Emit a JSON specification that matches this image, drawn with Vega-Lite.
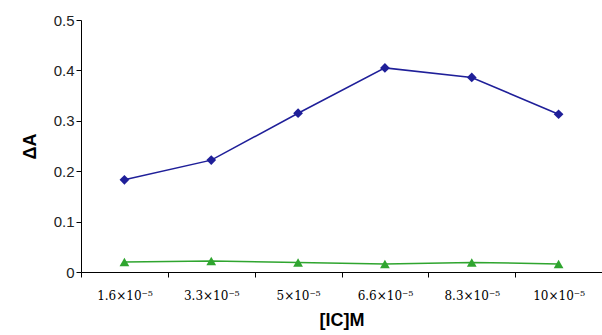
{
  "$schema": "https://vega.github.io/schema/vega-lite/v6.json",
  "width": 521,
  "height": 252,
  "autosize": {"type": "none"},
  "padding": {"left": 81, "top": 20, "right": 0, "bottom": 63},
  "background": "white",
  "config": {"view": {"stroke": null}},
  "data": {
    "values": [
      {"conc": "1.6×10⁻⁵", "series": "A", "dA": 0.183},
      {"conc": "3.3×10⁻⁵", "series": "A", "dA": 0.222},
      {"conc": "5×10⁻⁵", "series": "A", "dA": 0.315},
      {"conc": "6.6×10⁻⁵", "series": "A", "dA": 0.405},
      {"conc": "8.3×10⁻⁵", "series": "A", "dA": 0.386},
      {"conc": "10×10⁻⁵", "series": "A", "dA": 0.313},
      {"conc": "1.6×10⁻⁵", "series": "B", "dA": 0.020},
      {"conc": "3.3×10⁻⁵", "series": "B", "dA": 0.022},
      {"conc": "5×10⁻⁵", "series": "B", "dA": 0.019},
      {"conc": "6.6×10⁻⁵", "series": "B", "dA": 0.016},
      {"conc": "8.3×10⁻⁵", "series": "B", "dA": 0.019},
      {"conc": "10×10⁻⁵", "series": "B", "dA": 0.016}
    ]
  },
  "encoding": {
    "x": {
      "field": "conc", "type": "ordinal", "sort": null,
      "scale": {"type": "band", "paddingInner": 0, "paddingOuter": 0},
      "axis": {
        "title": "[IC]M", "titleFont": "Liberation Sans", "titleFontSize": 18, "titleFontWeight": "bold",
        "titleColor": "black", "titlePadding": 10,
        "labelAngle": 0, "labelFont": "DejaVu Serif", "labelFontSize": 12, "labelColor": "black",
        "labelPadding": 13, "tickBand": "extent", "tickSize": 5, "tickColor": "black",
        "domainColor": "black", "grid": false
      }
    },
    "y": {
      "field": "dA", "type": "quantitative",
      "scale": {"domain": [0, 0.5], "nice": false},
      "axis": {
        "title": "ΔA", "titleFont": "Liberation Sans", "titleFontSize": 18, "titleFontWeight": "bold",
        "titleColor": "black", "titlePadding": 14,
        "values": [0, 0.1, 0.2, 0.3, 0.4, 0.5], "format": ".1~f",
        "labelFont": "Liberation Sans", "labelFontSize": 15, "labelColor": "#222",
        "tickSize": 5, "tickColor": "black", "domainColor": "black", "grid": false
      }
    }
  },
  "layer": [
    {
      "mark": {"type": "line", "strokeWidth": 1.5},
      "encoding": {
        "detail": {"field": "series"},
        "color": {"field": "series", "type": "nominal", "scale": {"domain": ["A", "B"], "range": ["#1f1f99", "#2fa52f"]}, "legend": null}
      }
    },
    {
      "mark": {"type": "point", "filled": true, "opacity": 1, "size": 95},
      "encoding": {
        "color": {"field": "series", "type": "nominal", "scale": {"domain": ["A", "B"], "range": ["#00007f", "#008000"]}, "legend": null},
        "shape": {"field": "series", "type": "nominal", "scale": {"domain": ["A", "B"], "range": ["diamond", "triangle-up"]}, "legend": null}
      }
    }
  ]
}
